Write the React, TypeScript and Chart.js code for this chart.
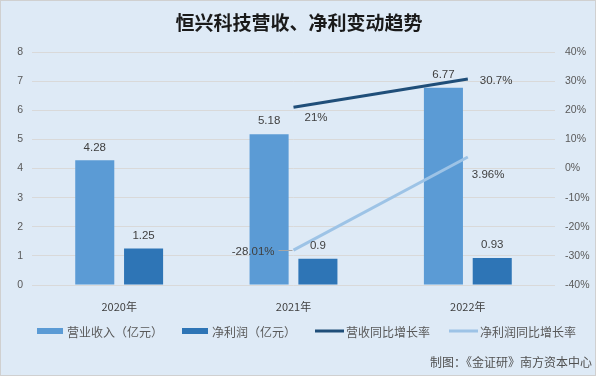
import React, { useEffect, useRef } from "react";
import { Chart, registerables } from "chart.js";

Chart.register(...registerables);

const categories = ["2020年", "2021年", "2022年"];
const revenue = [4.28, 5.18, 6.77];
const netProfit = [1.25, 0.9, 0.93];
const revenueGrowth = [null, 21, 30.7];
const profitGrowth = [null, -28.01, 3.96];
const revenueGrowthLabels = ["", "21%", "30.7%"];
const profitGrowthLabels = ["", "-28.01%", "3.96%"];
const leftTicks = { min: 0, max: 8, step: 1 };
const rightTicks = { min: -40, max: 40, step: 10 };

const TITLE = "恒兴科技营收、净利变动趋势";
const FOOTER = "制图：《金证研》南方资本中心";
const SERIES_NAMES = ["营业收入（亿元）", "净利润（亿元）", "营收同比增长率", "净利润同比增长率"];

const FAMILY = "'Liberation Sans', 'Noto Sans CJK SC', sans-serif";
const CJK = "'Noto Sans CJK SC', 'Liberation Sans', sans-serif";
const C_BAR1 = "#5b9bd5";
const C_BAR2 = "#2e75b6";
const C_LINE1 = "#1f4e79";
const C_LINE2 = "#9dc3e6";
const BG = "#deeaf6";

// label offsets relative to line points: [dx, dy, align]
const revLabelPos: any[] = [null, [11, 10, "left"], [12, 2, "left"]];
const profLabelPos: any[] = [null, [-19, 2, "right"], [4, 18, "left"]];

const decorPlugin = {
  id: "decor",
  beforeDraw(chart: any) {
    const ctx = chart.ctx;
    ctx.save();
    ctx.fillStyle = BG;
    ctx.fillRect(0, 0, chart.width, chart.height);
    ctx.strokeStyle = "#d0d0d0";
    ctx.lineWidth = 1;
    ctx.strokeRect(0.5, 0.5, chart.width - 1, chart.height - 1);
    // title
    ctx.fillStyle = "#1a1a1a";
    ctx.font = `bold 19px ${CJK}`;
    ctx.textAlign = "center";
    ctx.textBaseline = "middle";
    ctx.fillText(TITLE, 299, 23);
    // legend
    const ly = 331;
    let x = 37;
    ctx.font = `12px ${CJK}`;
    const colors = [C_BAR1, C_BAR2, C_LINE1, C_LINE2];
    SERIES_NAMES.forEach((name, i) => {
      if (i < 2) {
        ctx.fillStyle = colors[i];
        ctx.fillRect(x, ly - 3, 26, 6);
        x += 30;
      } else {
        ctx.strokeStyle = colors[i];
        ctx.lineWidth = 3;
        ctx.beginPath();
        ctx.moveTo(x, ly);
        ctx.lineTo(x + 29, ly);
        ctx.stroke();
        x += 31;
      }
      ctx.fillStyle = "#595959";
      ctx.textAlign = "left";
      ctx.fillText(name, x, ly + 1);
      x += ctx.measureText(name).width + 19;
    });
    // footer
    try { ctx.fontKerning = "none"; } catch (e) {}
    ctx.textAlign = "right";
    ctx.fillStyle = "#505050";
    ctx.fillText(FOOTER, 592, 362);
    ctx.restore();
  },
  afterDatasetsDraw(chart: any) {
    const ctx = chart.ctx;
    ctx.save();
    ctx.font = `11.5px ${FAMILY}`;
    ctx.fillStyle = "#404040";
    ctx.textBaseline = "middle";
    ctx.textAlign = "center";
    [0, 1].forEach((di) => {
      const meta = chart.getDatasetMeta(di);
      const data = chart.data.datasets[di].data;
      meta.data.forEach((el: any, i: number) => {
        ctx.fillText(String(data[i]), el.x, el.y - 13);
      });
    });
    const lineSets: any[] = [
      [2, revenueGrowthLabels, revLabelPos],
      [3, profitGrowthLabels, profLabelPos],
    ];
    lineSets.forEach(([di, labels, pos]) => {
      const meta = chart.getDatasetMeta(di);
      meta.data.forEach((el: any, i: number) => {
        const p = pos[i];
        if (!p || !labels[i]) return;
        ctx.textAlign = p[2];
        ctx.fillStyle = "#404040";
        ctx.fillText(labels[i], el.x + p[0], el.y + p[1]);
        if (p[0] < 0) {
          ctx.strokeStyle = "#a6a6a6";
          ctx.lineWidth = 1;
          ctx.beginPath();
          ctx.moveTo(el.x + p[0] + 4, Math.round(el.y) + 0.5);
          ctx.lineTo(el.x - 1, Math.round(el.y) + 0.5);
          ctx.stroke();
        }
      });
    });
    ctx.restore();
  },
};

export default function App() {
  const ref = useRef<HTMLCanvasElement>(null);
  useEffect(() => {
    if (!ref.current) return;
    const chart = new Chart(ref.current, {
      type: "bar",
      data: {
        labels: categories,
        datasets: [
          { type: "bar", label: SERIES_NAMES[0], data: revenue, backgroundColor: C_BAR1, yAxisID: "y", order: 2, categoryPercentage: 0.56, barPercentage: 0.8 },
          { type: "bar", label: SERIES_NAMES[1], data: netProfit, backgroundColor: C_BAR2, yAxisID: "y", order: 2, categoryPercentage: 0.56, barPercentage: 0.8 },
          { type: "line", label: SERIES_NAMES[2], data: revenueGrowth as any, borderColor: C_LINE1, borderWidth: 3, pointRadius: 0, yAxisID: "y1", order: 1, spanGaps: false },
          { type: "line", label: SERIES_NAMES[3], data: profitGrowth as any, borderColor: C_LINE2, borderWidth: 3, pointRadius: 0, yAxisID: "y1", order: 0, spanGaps: false },
        ] as any,
      },
      options: {
        responsive: false,
        animation: false,
        layout: { padding: { top: 52, bottom: 61, left: 0, right: 0 } },
        plugins: { legend: { display: false }, title: { display: false }, tooltip: { enabled: false } },
        scales: {
          x: {
            grid: { display: false },
            border: { display: false },
            ticks: { padding: 7, color: "#404040", font: { size: 11, family: CJK } },
            afterFit: (s: any) => { s.height = 30; },
          },
          y: {
            position: "left",
            min: leftTicks.min,
            max: leftTicks.max,
            ticks: { stepSize: leftTicks.step, padding: 9, color: "#595959", font: { size: 10.5, family: FAMILY } },
            grid: { color: "#d9d9d9", drawTicks: false },
            border: { display: false },
            afterFit: (s: any) => { s.width = 32; },
          },
          y1: {
            position: "right",
            min: rightTicks.min,
            max: rightTicks.max,
            ticks: { stepSize: rightTicks.step, padding: 10, color: "#595959", font: { size: 10.5, family: FAMILY }, callback: (v: any) => v + "%" },
            grid: { display: false, drawTicks: false },
            border: { display: false },
            afterFit: (s: any) => { s.width = 41; },
          },
        },
      } as any,
      plugins: [decorPlugin],
    });
    return () => chart.destroy();
  }, []);
  return (
    <div style={{ position: "fixed", left: 0, top: 0, width: 596, height: 376 }}>
      <canvas ref={ref} width={596} height={376} style={{ display: "block" }} />
    </div>
  );
}
